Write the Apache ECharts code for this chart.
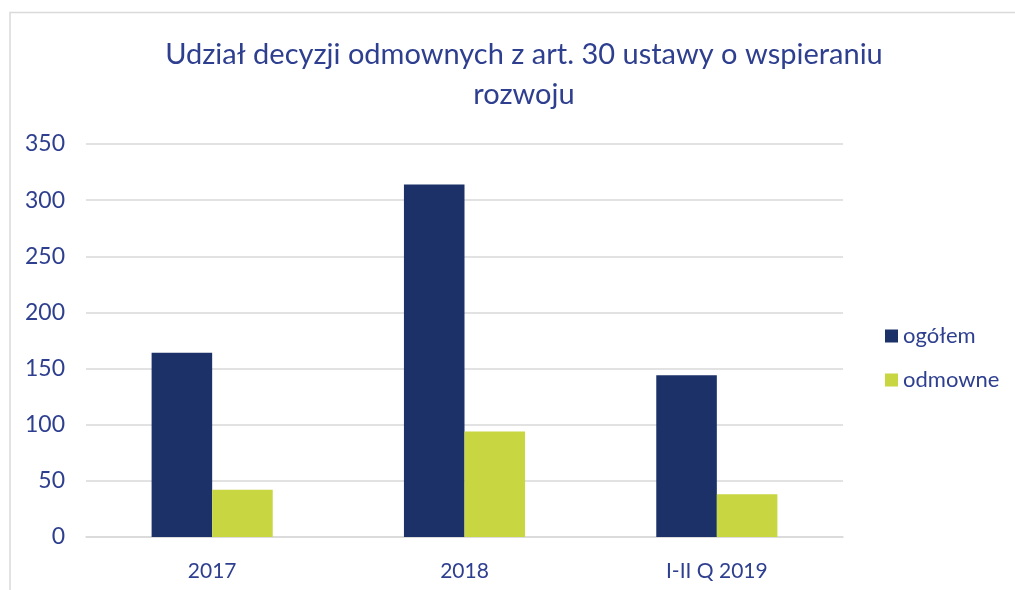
<!DOCTYPE html>
<html>
<head>
<meta charset="utf-8">
<script src="https://cdn.jsdelivr.net/npm/echarts@6/dist/echarts.min.js"></script>
<style>
  html, body { margin: 0; padding: 0; background: #fff; }
  #chart { width: 1015px; height: 590px; }
</style>
</head>
<body>
<div id="chart"></div>
<script>
const categories = ['2017', '2018', 'I-II Q 2019'];
const ogolem = [164, 314, 144];
const odmowne = [42, 94, 38];
const yTicks = [0, 50, 100, 150, 200, 250, 300, 350];

const textColor = '#2e3f8f';
const chart = echarts.init(document.getElementById('chart'));

const option = {
  backgroundColor: '#fff',
  textStyle: { fontFamily: 'Lato' },
  graphic: [
    {
      type: 'polyline',
      shape: { points: [[10, 600], [10, 12.5], [1020, 12.5]] },
      style: { stroke: '#d9d9d9', lineWidth: 1.5, fill: null }
    }
  ],
  title: {
    text: 'Udział decyzji odmownych z art. 30 ustawy o wspieraniu\nrozwoju',
    left: 519,
    textAlign: 'center',
    top: 30,
    textStyle: {
      color: textColor,
      fontSize: 29,
      fontWeight: 'normal',
      fontFamily: 'Lato',
      lineHeight: 40
    }
  },
  legend: {
    orient: 'vertical',
    left: 885,
    top: 325,
    padding: 0,
    itemWidth: 13,
    itemHeight: 13,
    itemGap: 22,
    icon: 'rect',
    data: ['ogółem', 'odmowne'],
    textStyle: { color: textColor, fontSize: 22, fontFamily: 'Lato' }
  },
  grid: { left: 86, right: 172, top: 144, bottom: 53, containLabel: false },
  xAxis: {
    type: 'category',
    data: categories,
    axisTick: { show: false },
    axisLine: { lineStyle: { color: '#d9d9d9', width: 1.5 } },
    axisLabel: { color: textColor, fontSize: 21, margin: 24 }
  },
  yAxis: {
    type: 'value',
    min: yTicks[0],
    max: yTicks[yTicks.length - 1],
    interval: 50,
    axisLine: { show: false },
    axisTick: { show: false },
    splitLine: { lineStyle: { color: '#d9d9d9', width: 1.5 } },
    axisLabel: { color: textColor, fontSize: 23, margin: 21 }
  },
  series: [
    {
      name: 'ogółem',
      type: 'bar',
      barGap: 0,
      barCategoryGap: '52%',
      itemStyle: { color: '#1b3168' },
      data: ogolem
    },
    {
      name: 'odmowne',
      type: 'bar',
      itemStyle: { color: '#c8d642' },
      data: odmowne
    }
  ]
};
chart.setOption(option);
</script>
</body>
</html>
